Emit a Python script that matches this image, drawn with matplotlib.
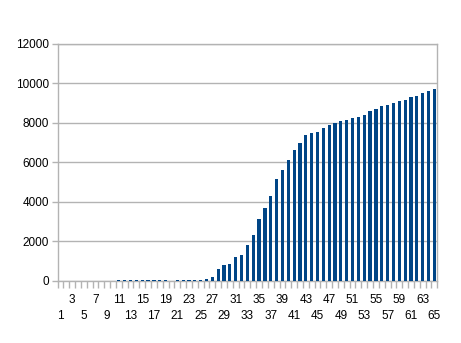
import matplotlib
matplotlib.use("Agg")
import matplotlib.pyplot as plt
from matplotlib.ticker import FixedLocator

plt.rcParams['font.family'] = ['Liberation Sans', 'DejaVu Sans']

categories = list(range(1, 66))
values = [0, 0, 0, 0, 0, 0, 0, 0, 0, 0,
          30, 30, 30, 30, 30, 30, 30, 30, 30, 0,
          30, 30, 30, 30, 30, 100, 200, 560, 770, 820,
          1170, 1280, 1790, 2320, 3130, 3700, 4290, 5150, 5600, 6100,
          6600, 7000, 7360, 7460, 7520, 7720, 7880, 7980, 8080, 8130,
          8270, 8320, 8420, 8580, 8680, 8830, 8930, 8990, 9090, 9140,
          9290, 9340, 9500, 9600, 9700]
y_ticks = [0, 2000, 4000, 6000, 8000, 10000, 12000]

bar_color = '#004586'
grid_color = '#b3b3b3'

fig = plt.figure(figsize=(4.61, 3.43), dpi=100)
ax = fig.add_axes([57.5 / 461, 1 - 280.5 / 343, (437.3 - 57.5) / 461, (280.5 - 44) / 343])

ax.bar(categories, values, width=0.55, color=bar_color, zorder=3)

ax.set_xlim(0.5, 65.5)
ax.set_ylim(0, 12000)
ax.set_yticks(y_ticks)
ax.set_yticklabels([str(v) for v in y_ticks], fontsize=8.5)
ax.yaxis.grid(True, color=grid_color, linewidth=1, zorder=0)
ax.set_axisbelow(True)

# labels at odd categories, alternating two rows
top_pos = [c for c in categories if c % 4 == 3]
bottom_pos = [c for c in categories if c % 4 == 1]
ax.set_xticks(top_pos)
ax.set_xticklabels([str(c) for c in top_pos], fontsize=8.5)
ax.tick_params(axis='x', which='major', length=0, pad=9.5)
ax.xaxis.set_minor_locator(FixedLocator([c - 0.5 for c in categories] + [categories[-1] + 0.5]))
ax.tick_params(axis='x', which='minor', length=5, color=grid_color, width=1)
ax.tick_params(axis='y', length=4, color=grid_color, width=1, pad=2)

sec = ax.secondary_xaxis('bottom')
sec.set_xticks(bottom_pos)
sec.set_xticklabels([str(c) for c in bottom_pos], fontsize=8.5)
sec.tick_params(axis='x', length=0, pad=21.5)
sec.spines['bottom'].set_visible(False)

for s in ax.spines.values():
    s.set_color(grid_color)
    s.set_linewidth(1)

fig.savefig("out.png", dpi=100)
